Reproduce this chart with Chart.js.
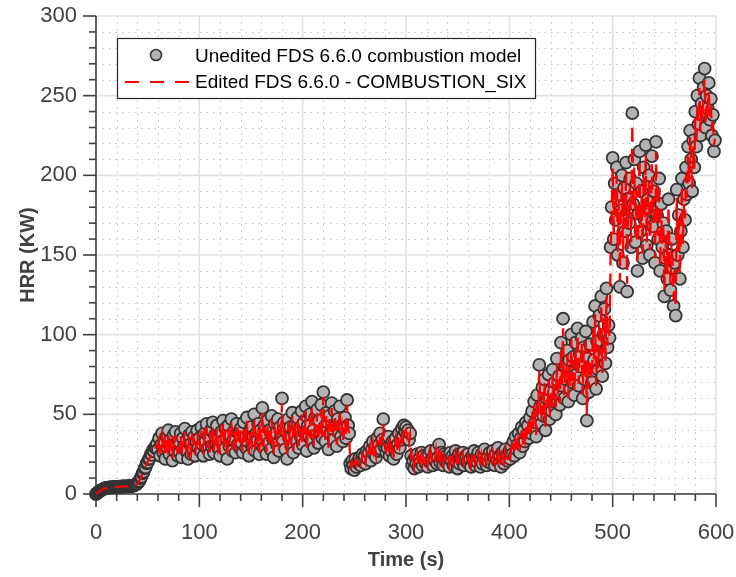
<!DOCTYPE html>
<html>
<head>
<meta charset="utf-8">
<title>HRR vs time</title>
<script src="https://cdn.jsdelivr.net/npm/chart.js@4.4.1/dist/chart.umd.min.js"></script>
<style>
  html, body { margin: 0; padding: 0; background: #fff; }
  #wrap { width: 736px; height: 577px; }
</style>
</head>
<body>
<div id="wrap"><canvas id="hrrChart" width="736" height="577"></canvas></div>
<script>
// one sample per second, starting at t = 0 (rows of 20 s)
const TIME_STEP = 1;

// HRR (kW), unedited FDS 6.6.0 combustion model
const unedited = [
  0, 0.5, 1, 1.5, 2, 2.4, 2.8, 3.1, 3.4, 3.6, 3.8, 3.9, 4.0, 4.1, 4.2, 4.2, 4.3, 4.3, 4.4, 4.4,
  4.5, 4.5, 4.6, 4.5, 4.6, 4.7, 4.6, 4.7, 4.8, 4.7, 4.8, 4.9, 4.8, 5.0, 5.1, 5.0, 5.2, 5.4, 5.7, 6.0,
  6.6, 7.6, 8.2, 9.9, 10.8, 12.9, 13.8, 16.1, 16.7, 19.2, 19.8, 21.9, 22.3, 25.1, 24.6, 27.5, 26.8, 29.4, 28.7, 31.5,
  28, 35, 24, 31, 38, 26, 33, 22, 36, 29, 40, 25, 34, 30, 21, 37, 27, 39, 32, 24,
  33, 26, 38, 23, 35, 30, 41, 27, 34, 22, 37, 31, 25, 39, 28, 36, 24, 33, 40, 29,
  35, 27, 42, 31, 24, 38, 33, 44, 28, 36, 25, 40, 30, 45, 26, 37, 32, 43, 29, 35,
  24, 39, 33, 46, 28, 41, 35, 22, 43, 30, 37, 47, 27, 34, 40, 26, 44, 31, 38, 29,
  41, 32, 26, 45, 35, 29, 48, 33, 24, 39, 42, 30, 36, 50, 27, 38, 33, 44, 25, 40,
  34, 54, 29, 43, 37, 25, 46, 32, 40, 28, 49, 35, 23, 44, 38, 31, 47, 27, 42, 36,
  60, 33, 45, 28, 39, 22, 47, 35, 42, 30, 51, 26, 38, 44, 33, 48, 29, 41, 36, 52,
  31, 45, 38, 55, 27, 43, 36, 50, 34, 58, 40, 29, 48, 37, 53, 32, 46, 39, 56, 35,
  64, 42, 33, 51, 45, 28, 49, 38, 57, 41, 34, 52, 44, 30, 47, 39, 55, 36, 43, 33,
  41, 48, 35, 59, 43, 38, 19, 16, 21, 18, 15, 22, 17, 20, 19, 23, 18, 21, 25, 20,
  24, 19, 27, 22, 26, 30, 21, 28, 33, 25, 29, 23, 35, 27, 31, 38, 28, 34, 47, 30,
  32, 26, 29, 36, 24, 30, 27, 33, 22, 28, 35, 25, 31, 38, 29, 34, 41, 36, 43, 39,
  42, 37, 40, 34, 38, 24, 18, 21, 16, 23, 19, 25, 17, 22, 20, 26, 18, 24, 21, 19,
  23, 17, 25, 20, 27, 22, 18, 24, 21, 28, 19, 23, 31, 20, 26, 22, 18, 25, 21, 24,
  19, 23, 17, 26, 21, 24, 18, 22, 27, 20, 16, 25, 19, 23, 21, 26, 18, 22, 24, 20,
  25, 19, 22, 17, 24, 21, 27, 18, 23, 20, 26, 22, 17, 25, 19, 24, 28, 21, 18, 23,
  20, 26, 22, 19, 27, 23, 18, 25, 21, 29, 20, 24, 17, 26, 22, 19, 28, 23, 21, 25,
  27, 22, 30, 25, 33, 24, 36, 28, 31, 38, 26, 35, 42, 30, 40, 33, 45, 37, 43, 35,
  48, 38, 52, 41, 58, 45, 36, 62, 50, 81, 55, 44, 67, 49, 72, 40, 60, 53, 75, 47,
  65, 52, 78, 58, 70, 50, 85, 62, 74, 56, 95, 68, 110, 60, 80, 72, 90, 58, 84, 66,
  100, 70, 86, 62, 95, 75, 104, 68, 88, 80, 98, 60, 92, 72, 102, 46, 85, 64, 94, 76,
  70, 108, 84, 118, 66, 96, 78, 112, 88, 124, 74, 100, 116, 82, 129, 92, 106, 98, 155, 180,
  211, 160, 195, 172, 205, 150, 188, 130, 178, 200, 145, 192, 165, 208, 127, 185, 170, 198, 155, 239,
  182, 210, 158, 195, 140, 176, 215, 165, 190, 148, 205, 172, 219, 156, 185, 200, 150, 178, 212, 168,
  190, 145, 221, 175, 160, 198, 140, 182, 155, 170, 124, 148, 165, 135, 185, 150, 128, 160, 142, 118,
  145, 112, 191, 150, 175, 135, 165, 198, 155, 185, 172, 205, 188, 218, 195, 228, 210, 190, 222, 205,
  240, 218, 250, 232, 261, 225, 245, 238, 255, 267, 230, 250, 242, 258, 235, 248, 225, 238, 215, 222
];

// HRR (kW), edited FDS 6.6.0 - COMBUSTION_SIX
const edited = [
  0, 0.4, 0.9, 1.4, 1.9, 2.3, 2.7, 3.0, 3.3, 3.5, 3.7, 3.8, 3.9, 4.0, 4.1, 4.2, 4.2, 4.3, 4.3, 4.4,
  4.4, 4.5, 4.5, 4.6, 4.6, 4.6, 4.7, 4.7, 4.7, 4.8, 4.8, 4.8, 4.9, 4.9, 5.0, 5.1, 5.1, 5.3, 5.5, 5.9,
  6.4, 7.2, 8.5, 9.4, 11.3, 12.2, 14.3, 15.6, 17.2, 18.8, 20.3, 21.4, 22.8, 24.3, 25.2, 26.9, 27.4, 28.8, 29.3, 30.6,
  29, 33, 25, 32, 36, 27, 32, 23, 35, 30, 38, 26, 33, 31, 22, 36, 28, 37, 31, 25,
  32, 27, 37, 24, 34, 31, 39, 28, 33, 23, 36, 30, 26, 38, 29, 35, 25, 32, 38, 30,
  34, 28, 40, 32, 25, 37, 34, 42, 29, 35, 26, 39, 31, 43, 27, 36, 33, 41, 30, 34,
  25, 38, 34, 44, 29, 40, 34, 23, 41, 31, 36, 45, 28, 33, 39, 27, 42, 32, 37, 30,
  40, 33, 27, 43, 34, 30, 46, 32, 25, 38, 41, 31, 35, 48, 28, 37, 34, 42, 26, 39,
  35, 51, 30, 42, 36, 26, 44, 33, 39, 29, 47, 34, 24, 42, 37, 32, 45, 28, 41, 35,
  57, 34, 43, 29, 38, 23, 45, 36, 41, 31, 49, 27, 37, 43, 34, 46, 30, 40, 37, 50,
  32, 43, 37, 52, 28, 42, 37, 48, 35, 55, 39, 30, 46, 38, 51, 33, 44, 38, 53, 36,
  61, 41, 34, 49, 44, 29, 47, 39, 54, 40, 35, 50, 43, 31, 45, 38, 52, 37, 42, 34,
  40, 46, 36, 56, 42, 37, 20, 17, 20, 19, 16, 21, 18, 21, 20, 22, 19, 22, 24, 21,
  23, 20, 26, 23, 25, 29, 22, 27, 32, 26, 28, 24, 34, 28, 30, 36, 29, 33, 44, 31,
  31, 27, 30, 35, 25, 31, 28, 32, 23, 29, 34, 26, 30, 37, 30, 33, 39, 35, 41, 38,
  40, 36, 39, 33, 37, 23, 19, 22, 17, 22, 20, 24, 18, 23, 21, 25, 19, 23, 22, 20,
  22, 18, 24, 21, 26, 21, 19, 23, 22, 27, 20, 22, 29, 21, 25, 23, 19, 24, 22, 23,
  20, 22, 18, 25, 22, 23, 19, 23, 26, 21, 17, 24, 20, 22, 22, 25, 19, 21, 23, 21,
  24, 20, 23, 18, 23, 22, 26, 19, 22, 21, 25, 21, 18, 24, 20, 23, 27, 22, 19, 22,
  21, 25, 21, 20, 26, 22, 19, 24, 22, 28, 21, 23, 18, 25, 23, 20, 27, 22, 22, 24,
  26, 23, 29, 26, 32, 25, 35, 29, 32, 37, 27, 34, 40, 31, 39, 34, 43, 38, 42, 36,
  46, 39, 50, 42, 56, 46, 37, 60, 51, 77, 56, 45, 64, 50, 70, 42, 59, 54, 72, 48,
  63, 53, 75, 59, 69, 52, 82, 63, 72, 57, 91, 69, 104, 62, 78, 73, 87, 60, 82, 67,
  97, 71, 84, 64, 92, 76, 100, 69, 86, 81, 95, 62, 90, 73, 99, 50, 83, 66, 91, 77,
  72, 104, 83, 113, 68, 94, 79, 108, 87, 119, 76, 98, 112, 83, 124, 93, 104, 99, 150, 176,
  205, 162, 191, 174, 200, 152, 184, 134, 175, 196, 148, 188, 167, 203, 132, 181, 172, 194, 158, 232,
  180, 205, 161, 191, 144, 174, 210, 167, 186, 151, 200, 173, 213, 158, 182, 196, 153, 176, 207, 170,
  186, 148, 215, 173, 162, 194, 143, 179, 157, 168, 128, 150, 163, 138, 181, 152, 132, 158, 145, 122,
  143, 117, 186, 152, 172, 138, 163, 193, 157, 182, 173, 200, 186, 212, 196, 224, 208, 192, 218, 204,
  236, 219, 245, 233, 255, 227, 243, 239, 251, 260, 232, 247, 243, 253, 237, 246, 228, 236, 219, 223
];

const xTicks = [0, 100, 200, 300, 400, 500, 600];
const yTicks = [0, 50, 100, 150, 200, 250, 300];
const seriesNames = ["Unedited FDS 6.6.0 combustion model", "Edited FDS 6.6.0 - COMBUSTION_SIX"];

const FONT = '"Liberation Sans", Arial, Helvetica, sans-serif';
const AXIS_COLOR = "#404040";
const MARKER_FILL = "#b3b3b3";
const MARKER_EDGE = "#333333";

const toPoints = (values) => values.map((v, i) => ({ x: i * TIME_STEP, y: v }));

// MATLAB-like axes: major/minor grid, outward ticks, legend box
const matlabAxes = {
  id: "matlabAxes",
  beforeDatasetsDraw(chart) {
    const { ctx, chartArea: a, scales } = chart;
    const x = scales.x;
    const y = scales.y;
    const xMinor = 20, yMinor = 10;
    const seg = (x1, y1, x2, y2) => {
      ctx.beginPath();
      ctx.moveTo(x1, y1);
      ctx.lineTo(x2, y2);
      ctx.stroke();
    };
    ctx.save();

    // minor grid (dotted)
    ctx.strokeStyle = "#c4c4c4";
    ctx.lineWidth = 1;
    ctx.setLineDash([1.5, 5]);
    for (let v = x.min; v <= x.max; v += xMinor) {
      if (xTicks.includes(v)) continue;
      const px = Math.round(x.getPixelForValue(v)) + 0.5;
      seg(px, a.top, px, a.bottom);
    }
    for (let v = y.min; v <= y.max; v += yMinor) {
      if (yTicks.includes(v)) continue;
      const py = Math.round(y.getPixelForValue(v)) + 0.5;
      seg(a.left, py, a.right, py);
    }

    // major grid
    ctx.setLineDash([]);
    ctx.strokeStyle = "#e2e2e2";
    ctx.lineWidth = 1.6;
    xTicks.forEach((v) => {
      const px = x.getPixelForValue(v);
      seg(px, a.top, px, a.bottom);
    });
    yTicks.forEach((v) => {
      const py = y.getPixelForValue(v);
      seg(a.left, py, a.right, py);
    });

    // axis lines and outward ticks
    ctx.strokeStyle = AXIS_COLOR;
    ctx.lineWidth = 1.6;
    seg(a.left, a.top, a.left, a.bottom + 0.8);
    seg(a.left - 0.8, a.bottom, a.right, a.bottom);
    for (let v = x.min; v <= x.max; v += xMinor) {
      const px = x.getPixelForValue(v);
      seg(px, a.bottom, px, a.bottom + (xTicks.includes(v) ? 13 : 7));
    }
    for (let v = y.min; v <= y.max; v += yMinor) {
      const py = y.getPixelForValue(v);
      seg(a.left, py, a.left - (yTicks.includes(v) ? 13 : 7), py);
    }
    ctx.restore();
  },
  afterDraw(chart) {
    const { ctx } = chart;
    const [lineSet, markerSet] = chart.data.datasets;
    ctx.save();
    ctx.fillStyle = "#ffffff";
    ctx.strokeStyle = "#262626";
    ctx.lineWidth = 1.2;
    ctx.fillRect(117, 38, 418, 60);
    ctx.strokeRect(117.5, 38.5, 418, 60);

    ctx.beginPath();
    ctx.arc(156, 55, 5.5, 0, Math.PI * 2);
    ctx.fillStyle = markerSet.pointBackgroundColor;
    ctx.fill();
    ctx.lineWidth = 1.6;
    ctx.strokeStyle = markerSet.pointBorderColor;
    ctx.stroke();

    ctx.beginPath();
    ctx.setLineDash([14, 11]);
    ctx.strokeStyle = lineSet.borderColor;
    ctx.lineWidth = 2;
    ctx.moveTo(125, 82);
    ctx.lineTo(190, 82);
    ctx.stroke();
    ctx.setLineDash([]);

    ctx.fillStyle = "#000000";
    ctx.font = "19px " + FONT;
    ctx.textBaseline = "middle";
    ctx.textAlign = "left";
    ctx.fillText(markerSet.label, 195, 57);
    ctx.fillText(lineSet.label, 195, 83);
    ctx.restore();
  }
};

const tickFont = { family: FONT, size: 22 };
const titleFont = { family: FONT, size: 20, weight: "bold" };

new Chart(document.getElementById("hrrChart").getContext("2d"), {
  type: "line",
  data: {
    datasets: [
      {
        label: seriesNames[1],
        data: toPoints(edited),
        borderColor: "#ff0000",
        borderWidth: 2.3,
        borderDash: [13, 8],
        pointRadius: 0,
        tension: 0,
        fill: false,
        clip: false,
        order: 0
      },
      {
        label: seriesNames[0],
        data: toPoints(unedited),
        showLine: false,
        pointRadius: 6,
        pointBackgroundColor: MARKER_FILL,
        pointBorderColor: MARKER_EDGE,
        pointBorderWidth: 1.8,
        clip: false,
        order: 1
      }
    ]
  },
  options: {
    responsive: false,
    animation: false,
    events: [],
    layout: { padding: { left: 0, top: 16, right: 20, bottom: 0 } },
    plugins: {
      legend: { display: false },
      tooltip: { enabled: false }
    },
    scales: {
      x: {
        type: "linear",
        min: 0,
        max: 600,
        grid: { display: false, drawTicks: false },
        border: { display: false },
        ticks: {
          stepSize: 20,
          autoSkip: false,
          maxRotation: 0,
          padding: 26,
          color: AXIS_COLOR,
          font: tickFont,
          callback: (v) => (xTicks.includes(v) ? v : "")
        },
        title: {
          display: true,
          text: "Time (s)",
          color: AXIS_COLOR,
          font: titleFont,
          padding: { top: 0, bottom: 5 }
        },
        afterFit(scale) {
          scale.height = 83;
          scale.paddingLeft = 0;
          scale.paddingRight = 0;
        }
      },
      y: {
        min: 0,
        max: 300,
        grid: { display: false, drawTicks: false },
        border: { display: false },
        ticks: {
          stepSize: 10,
          autoSkip: false,
          padding: 19,
          color: AXIS_COLOR,
          font: tickFont,
          callback: (v) => (yTicks.includes(v) ? v : "")
        },
        title: {
          display: true,
          text: "HRR (KW)",
          color: AXIS_COLOR,
          font: titleFont,
          padding: { top: 16, bottom: 0 }
        },
        afterFit(scale) {
          scale.width = 96;
          scale.paddingTop = 0;
          scale.paddingBottom = 0;
        }
      }
    }
  },
  plugins: [matlabAxes]
});
</script>
</body>
</html>
